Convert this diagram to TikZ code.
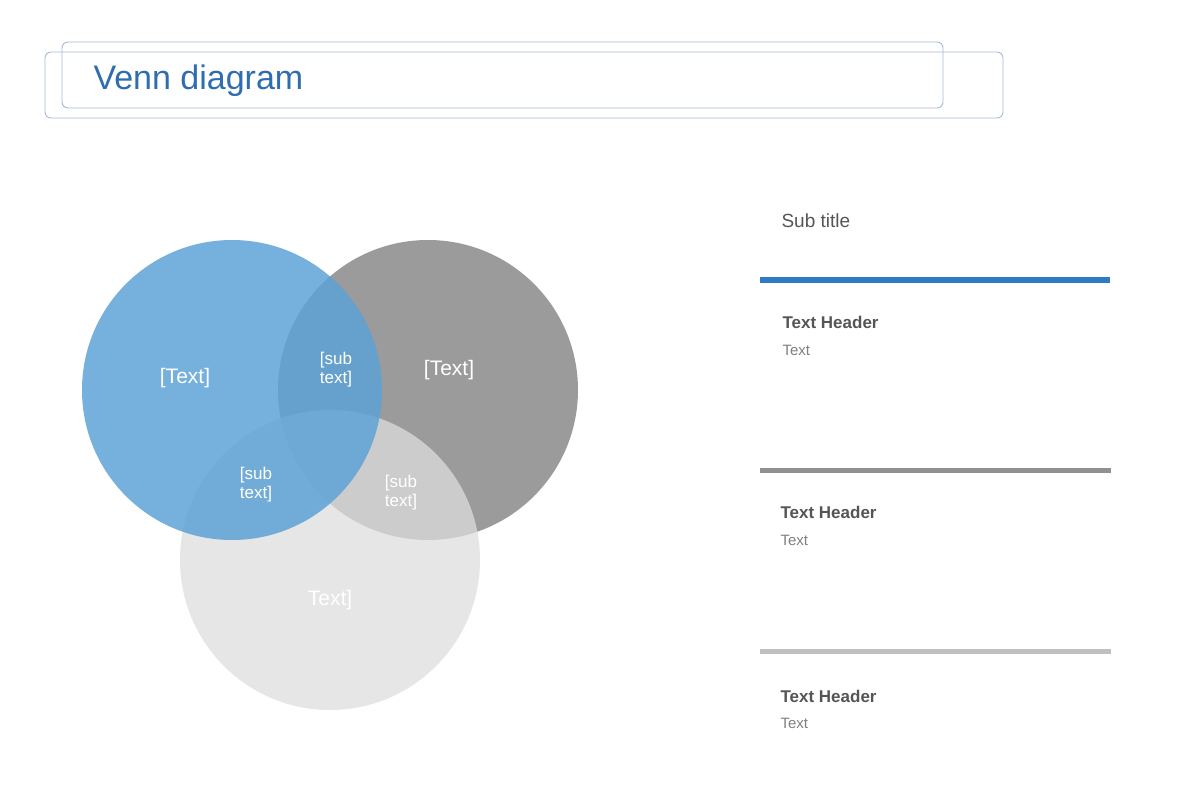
\documentclass[tikz,border=0pt]{standalone}
\usepackage{fontspec}
\setmainfont{Liberation Sans}
\begin{document}
\begin{tikzpicture}[x=1pt,y=-1pt,
  frame/.style={draw=frameblue,line width=0.9pt,rounded corners=6pt},
  circ/.style={circle,minimum size=300pt,inner sep=0pt,draw=none},
  ctext/.style={text=white,font=\fontsize{21}{24}\selectfont},
  stext/.style={text=white,align=center,font=\fontsize{17}{19}\selectfont},
  head/.style={anchor=west,text=darktext,font=\bfseries\fontsize{17}{20}\selectfont},
  body/.style={anchor=west,text=lighttext,font=\fontsize{15}{18}\selectfont}]
\definecolor{frameblue}{HTML}{A3B9DA}
\definecolor{titleblue}{HTML}{2E6DB0}
\definecolor{cblue}{HTML}{5DA3D6}
\definecolor{cgray}{HTML}{9B9B9B}
\definecolor{clight}{HTML}{DDDDDD}
\definecolor{barblue}{HTML}{2E7BC4}
\definecolor{bargray}{HTML}{909090}
\definecolor{barlight}{HTML}{C0C0C0}
\definecolor{darktext}{HTML}{555555}
\definecolor{lighttext}{HTML}{808080}
\useasboundingbox (0,0) rectangle (1200,800);
% title banner
\draw[frame] (62,42) rectangle (943,108);
\draw[frame] (45,52) rectangle (1003,118);
\node[anchor=west,text=titleblue,font=\fontsize{34}{38}\selectfont] (title) at (90,81) {Venn diagram};
% circles
\node[circ,fill=cgray] (g) at (428,390) {};
\node[circ,fill=clight,fill opacity=0.75] (l) at (330,560) {};
\node[circ,fill=cblue,fill opacity=0.85] (b) at (232,390) {};
\node[ctext] (t1) at (185,378) {[Text]};
\node[ctext] (t2) at (449,370) {[Text]};
\node[ctext] (t3) at (330,600) {Text]};
\node[stext] (s1) at (336,370) {[sub\\text]};
\node[stext] (s2) at (256,485) {[sub\\text]};
\node[stext] (s3) at (401,493) {[sub\\text]};
% right panel
\node[anchor=west,text=darktext,font=\fontsize{19}{22}\selectfont] (sub) at (778,221) {Sub title};
\draw[barblue,line width=6pt] (760,280) -- (1110,280);
\draw[bargray,line width=5pt] (760,470) -- (1111,470);
\draw[barlight,line width=5pt] (760,651) -- (1111,651);
\node[head] (h1) at (779,322) {Text Header};
\node[body] (b1) at (779,350) {Text};
\node[head] (h2) at (777,512) {Text Header};
\node[body] (b2) at (777,540) {Text};
\node[head] (h3) at (777,696) {Text Header};
\node[body] (b3) at (777,723) {Text};
\end{tikzpicture}
\end{document}
